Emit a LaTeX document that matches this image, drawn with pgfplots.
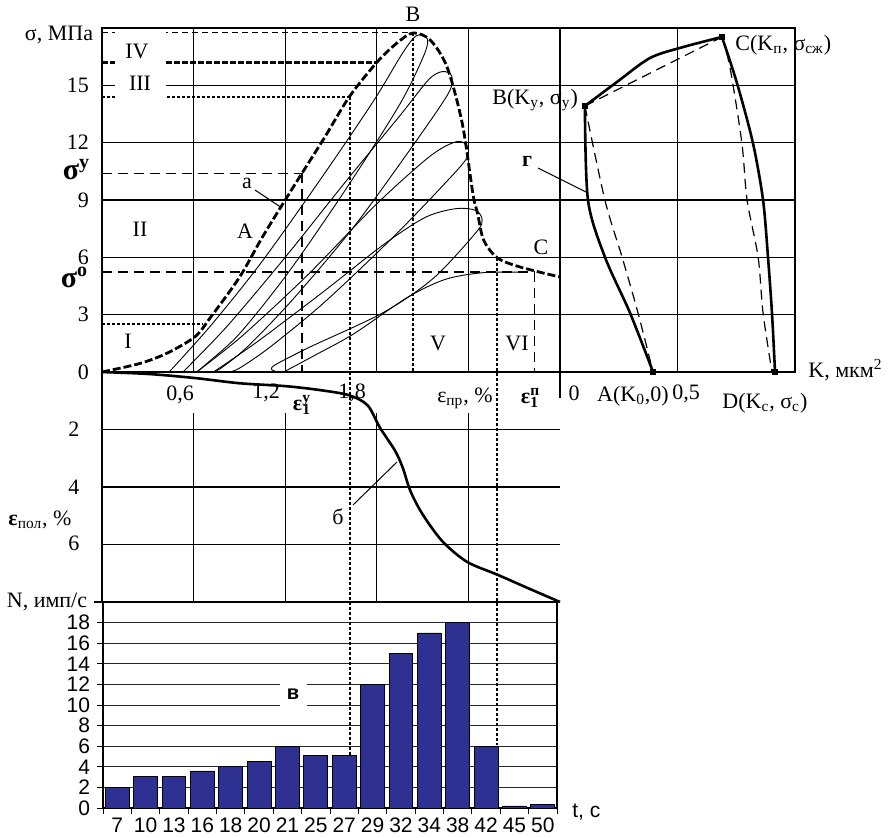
\documentclass[border=0pt]{standalone}
\usepackage{fontspec}
\setmainfont{Liberation Serif}
\newfontfamily\sansf{Liberation Sans}
\usepackage{pgfplots}
\pgfplotsset{compat=1.18}
\definecolor{barblue}{RGB}{46,49,146}
\newcommand\Sb[1]{\textsubscript{#1}}
\newcommand\Sp[1]{\textsuperscript{#1}}
\newcommand\eps[2]{{\bfseries ε}\rlap{\Sp{\bfseries #2}}\Sb{\bfseries #1}}
\tikzset{thindash/.style={black,line width=0.6pt,dash pattern=on 5pt off 3pt},
 thickdash/.style={black,line width=1.2pt,dash pattern=on 3pt off 1pt},
 thickdot/.style={black,line width=1.2pt,dash pattern=on 1.6pt off 0.9pt}}
\begin{document}
\begin{tikzpicture}[font=\fontsize{11}{12}\selectfont]
\path[use as bounding box] (0,0) rectangle (444.5pt,418.5pt);
\pgfplotsset{panel/.style={scale only axis, anchor=south west, clip=false,
  axis line style={line width=0.8pt}, major grid style={black, line width=0.6pt},
  major tick length=0pt, /pgf/number format/assume math mode=true}}

% ---------- top panel: sigma vs epsilon ----------
\begin{axis}[panel, at={(51pt,232.5pt)}, width=229pt, height=172pt,
  xmin=0, xmax=3, ymin=0, ymax=18,
  xtick={0.6,1.2,1.8,2.4}, xticklabels={}, ytick={0,3,6,9,12,15},
  grid=major, yticklabel style={font=\fontsize{11}{12}\selectfont, xshift=-3pt}]
% envelope a
\addplot[black, line width=1.4pt, dash pattern=on 4pt off 1.5pt, smooth] coordinates {
 (0,0) (0.25,0.45) (0.43,1.0) (0.61,1.85) (0.71,2.85) (0.9,4.95) (1.05,7.05) (1.2,9.0)
 (1.31,10.4) (1.46,12.3) (1.62,14.4) (1.8,16.2) (1.93,17.2) (2.037,17.74) (2.15,17.37)
 (2.26,15.96) (2.36,13.0) (2.43,9.3) (2.46,8.3) (2.5,6.9) (2.59,5.97) (2.74,5.49) (3.0,4.97)};
% loading / unloading loops
\addplot[black, line width=0.45pt, smooth] coordinates {
 (0.44,0) (0.72,2.5) (1.05,5.8) (1.45,10.3) (1.78,14.2) (1.97,16.7) (2.06,17.6) (2.13,17.45)
 (2.11,16.6) (1.95,14.0) (1.6,9.6) (1.22,5.2) (0.9,2.0) (0.68,0.4) (0.62,0)};
\addplot[black, line width=0.45pt, smooth] coordinates {
 (0.53,0) (0.82,2.4) (1.2,6.0) (1.6,10.0) (1.95,13.4) (2.14,15.3) (2.23,15.72) (2.29,15.5)
 (2.27,14.6) (2.05,12.0) (1.65,7.6) (1.25,3.8) (0.95,1.3) (0.78,0.2) (0.73,0)};
\addplot[black, line width=0.45pt, smooth] coordinates {
 (0.62,0) (0.92,1.9) (1.35,5.1) (1.8,8.8) (2.15,11.3) (2.32,12.05) (2.39,11.85)
 (2.39,11.2) (2.25,9.9) (1.9,7.0) (1.45,3.6) (1.1,1.3) (0.9,0.2) (0.83,0)};
\addplot[black, line width=0.45pt, smooth] coordinates {
 (0.73,0) (1.02,1.6) (1.45,4.2) (1.85,6.7) (2.12,8.1) (2.32,8.55) (2.45,8.45) (2.49,7.95)
 (2.45,7.3) (2.17,4.9) (1.84,3.1) (1.36,1.3) (1.14,0.4) (1.11,0.15) (1.14,0.02)};
\addplot[black, line width=0.45pt, smooth] coordinates {
 (1.19,0) (1.4,0.9) (1.65,2.0) (2.0,3.9) (2.25,4.85) (2.5,5.2) (2.77,5.22)};
% level lines
\draw[black,line width=0.5pt,dash pattern=on 3pt off 2pt] (axis cs:0,17.74) -- (axis cs:2.037,17.74);
\draw[thickdash] (axis cs:0,16.2) -- (axis cs:1.80,16.2);
\draw[thickdot] (axis cs:0,14.4) -- (axis cs:1.624,14.4);
\draw[thindash] (axis cs:0,10.4) -- (axis cs:1.31,10.4);
\draw[thindash] (axis cs:0,5.23) -- (axis cs:2.835,5.23);
\draw[thickdot] (axis cs:0,2.5) -- (axis cs:0.66,2.5);
\draw[thindash] (axis cs:1.31,10.4) -- (axis cs:1.31,0);
\draw[thindash] (axis cs:2.835,5.23) -- (axis cs:2.835,0);
\draw[thickdot] (axis cs:2.037,17.74) -- (axis cs:2.037,0);
\fill[white] (axis cs:0.085,14.15) rectangle (axis cs:0.42,17.85);
\end{axis}

% ---------- right panel: K vs sigma ----------
\begin{axis}[panel, at={(280pt,232.5pt)}, width=117.5pt, height=172pt,
  xmin=0, xmax=1, ymin=0, ymax=18, xtick={0.5}, ytick={3,6,9,12,15},
  xticklabels={}, yticklabels={}, grid=major]
\addplot[black, line width=1.3pt, smooth] coordinates {
 (0.106,13.92) (0.243,15.18) (0.383,16.43) (0.523,17.0) (0.689,17.53)};
\addplot[black, line width=1.3pt, smooth] coordinates {
 (0.689,17.53) (0.753,15.12) (0.821,11.98) (0.864,9.0) (0.885,6.02) (0.902,3.09) (0.915,0)};
\addplot[black, line width=1.3pt, smooth] coordinates {
 (0.106,13.92) (0.119,9.0) (0.191,6.02) (0.298,3.09) (0.396,0)};
\addplot[black, line width=0.6pt, dash pattern=on 5pt off 3pt] coordinates {
 (0.106,13.92) (0.689,17.53)};
\addplot[black, line width=0.6pt, dash pattern=on 5pt off 3pt, smooth] coordinates {
 (0.689,17.53) (0.723,15.96) (0.774,11.98) (0.796,9.0) (0.843,6.02) (0.864,3.09) (0.902,0)};
\addplot[black, line width=0.6pt, dash pattern=on 5pt off 3pt, smooth] coordinates {
 (0.106,13.92) (0.191,9.0) (0.264,6.02) (0.332,3.09) (0.396,0)};
\addplot[only marks, mark=square*, mark size=1.3pt, black] coordinates {
 (0.106,13.92) (0.689,17.53) (0.396,0) (0.915,0)};
\end{axis}

% ---------- middle panel: epsilon_pol ----------
\begin{axis}[at={(51pt,117.5pt)}, anchor=south west, scale only axis, width=229pt, height=115pt,
  xmin=0, xmax=3, ymin=0, ymax=8, y dir=reverse, hide axis, clip=false]
\addplot[black, line width=1.3pt, smooth] coordinates {
 (0,0) (0.31,0.07) (0.61,0.21) (0.9,0.39) (1.2,0.49) (1.43,0.63) (1.62,0.81) (1.74,1.16)
 (1.82,1.93) (1.92,2.74) (1.97,3.33) (2.02,4.14) (2.10,4.95) (2.23,5.89) (2.39,6.6)
 (2.59,7.05) (2.80,7.54) (3.0,8.0)};
\draw[line width=0.8pt] (axis cs:0,0) -- (axis cs:0,8);
\draw[line width=0.6pt] (axis cs:0,2) -- (axis cs:3,2);
\draw[line width=0.6pt] (axis cs:0,4) -- (axis cs:3,4);
\draw[line width=0.6pt] (axis cs:0,6) -- (axis cs:3,6);
\draw[line width=0.6pt] (axis cs:0.6,1.44) -- (axis cs:0.6,8);
\draw[line width=0.6pt] (axis cs:1.2,1.44) -- (axis cs:1.2,8);
\draw[line width=0.6pt] (axis cs:1.8,1.44) -- (axis cs:1.8,8);
\draw[line width=0.6pt] (axis cs:2.4,1.44) -- (axis cs:2.4,8);
\draw[line width=0.6pt] (axis cs:3,0) -- (axis cs:3,0.9);
\end{axis}

% ---------- bottom panel: N vs t ----------
\begin{axis}[at={(51.5pt,14.5pt)}, anchor=south west, scale only axis, width=227pt, height=103pt,
  xmin=-0.5, xmax=15.5, ymin=0, ymax=20,
  xtick={-0.5,0.5,...,15.5}, x tick label as interval,
  xticklabels={7,10,13,16,18,20,21,25,27,29,32,34,38,42,45,50},
  ytick={0,2,...,18}, ymajorgrids, major grid style={black!85, line width=0.5pt},
  axis line style={line width=0.8pt}, tick align=outside, tick pos=left,
  major tick length=3pt, tick style={black, line width=0.5pt},
  ticklabel style={font=\sansf\fontsize{10.5}{11}\selectfont},
  xticklabel style={yshift=1.5pt},
  /pgf/number format/assume math mode=true, clip=false]
\addplot[ybar, bar width=0.84, fill=barblue, draw=black, line width=0.4pt] coordinates {
 (0,2) (1,3.1) (2,3.1) (3,3.6) (4,4) (5,4.5) (6,6) (7,5.1) (8,5.1) (9,12)
 (10,15) (11,17) (12,18) (13,6) (14,0.2) (15,0.35)};
\node[fill=white, inner sep=0pt, minimum width=13.5pt, minimum height=14pt,
  font=\sansf\bfseries\fontsize{10}{10}\selectfont] at (axis cs:6.2,11) {в};
\end{axis}

% ---------- labels and cross-panel lines (pixel coordinates) ----------
\begin{scope}[x=0.5pt, y=-0.5pt, shift={(0pt,418.5pt)}]
\draw[thickdot] (350,97) -- (350,755);
\draw[thickdot] (497,258) -- (497,745);
\node at (59,35) {σ, МПа};
\node at (137,51) {IV};
\node at (140,83) {III};
\node at (140,229) {II};
\node at (128,341) {I};
\node at (245,231) {A};
\node at (247,183) {a};
\draw[line width=0.5pt] (255,190) -- (282,208);
\node at (413,14) {B};
\node at (541,247) {C};
\node at (438,343) {V};
\node at (517,343) {VI};
\node at (76,170) {{\fontsize{15}{15}\selectfont\bfseries σ}\raisebox{1.1ex}{\bfseries\fontsize{10}{10}\selectfont y}};
\node at (74,277) {{\fontsize{15}{15}\selectfont\bfseries σ}\raisebox{1.1ex}{\bfseries\fontsize{10}{10}\selectfont o}};
\node at (527,161) {\bfseries г};
\draw[line width=0.5pt] (538,168) -- (588,193);
\node[anchor=west, inner sep=0pt] at (492,100) {B(K\Sb{y}, σ\Sb{y})};
\node[anchor=west, inner sep=0pt] at (735,45) {C(K\Sb{п}, σ\Sb{сж})};
\node[anchor=west, inner sep=0pt] at (808,370) {K, мкм\Sp{2}};
\node at (574,393) {0};
\node at (633,396) {A(K\Sb{0},0)};
\node at (686,394) {0,5};
\node[anchor=west, inner sep=0pt] at (722,403) {D(K\Sb{с}, σ\Sb{с})};
\node at (180,395) {0,6};
\node at (266,393) {1,2};
\node at (352,393) {1,8};
\node at (302,405) {\eps{1}{y}};
\node at (465,398) {ε\Sb{пр}, \%};
\node at (530,398) {\eps{1}{п}};
\node at (74,429) {2};
\node at (74,487) {4};
\node at (74,543) {6};
\node at (40,520) {{\bfseries ε}\Sb{пол}, \%};
\node at (338,517) {б};
\draw[line width=0.5pt] (353,505) -- (397,462);
\node at (47,602) {N, имп/с};
\draw[line width=0.6pt] (94,602) -- (103,602);
\node[anchor=west, inner sep=0pt, font=\sansf\fontsize{10.5}{11}\selectfont] at (572,812) {t, c};
\end{scope}
\end{tikzpicture}
\end{document}
